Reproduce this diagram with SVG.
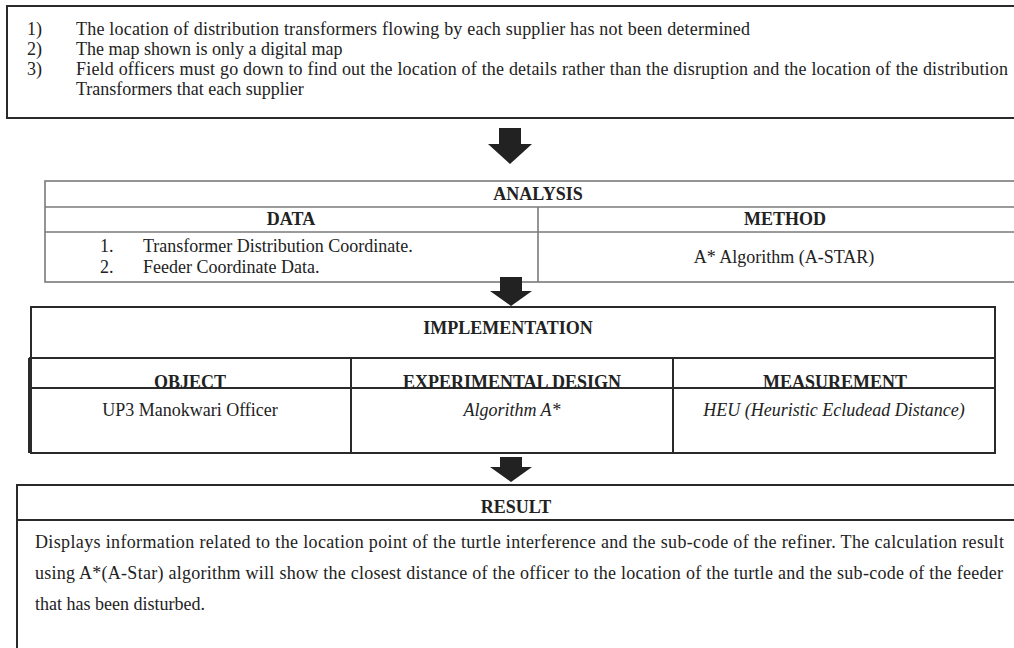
<svg xmlns="http://www.w3.org/2000/svg" width="1014" height="648" viewBox="0 0 1014 648">
<defs>
<style>
.t{font-family:"Liberation Serif","Times New Roman",serif;font-size:18px;fill:#222}
.b{font-weight:bold}
.i{font-style:italic}
.c{text-anchor:middle}
.dark{fill:none;stroke:#2a2a2a;stroke-width:2}
.grey{fill:none;stroke:#7a7a7a;stroke-width:1.6}
.arrow{fill:#222}
</style>
</defs>
<rect width="1014" height="648" fill="#fff"/>

<g id="problem">
<rect class="dark" x="7" y="6" width="1030" height="112"/>
<text class="t" x="27" y="35">1)</text>
<text class="t" x="76" y="35" textLength="674" lengthAdjust="spacing">The location of distribution transformers flowing by each supplier has not been determined</text>
<text class="t" x="27" y="55">2)</text>
<text class="t" x="76" y="55">The map shown is only a digital map</text>
<text class="t" x="27" y="75">3)</text>
<text class="t" x="76" y="75" textLength="932" lengthAdjust="spacing">Field officers must go down to find out the location of the details rather than the disruption and the location of the distribution</text>
<text class="t" x="76" y="95">Transformers that each supplier</text>
</g>

<g id="analysis">
<rect class="grey" x="45" y="181" width="1000" height="101"/>
<line class="grey" x1="45" y1="207" x2="1045" y2="207"/>
<line class="grey" x1="45" y1="232" x2="1045" y2="232"/>
<line class="grey" x1="538" y1="207" x2="538" y2="282"/>
<text class="t b c" x="538" y="200">ANALYSIS</text>
<text class="t b c" x="291" y="225">DATA</text>
<text class="t b c" x="785" y="225">METHOD</text>
<text class="t" x="100" y="252">1.</text>
<text class="t" x="143" y="252">Transformer Distribution Coordinate.</text>
<text class="t" x="100" y="273">2.</text>
<text class="t" x="143" y="273">Feeder Coordinate Data.</text>
<text class="t c" x="784" y="263">A* Algorithm (A-STAR)</text>
</g>

<g id="implementation">
<rect class="dark" x="31" y="307" width="964" height="146"/>
<line class="dark" x1="29" y1="358" x2="995" y2="358"/>
<line class="dark" x1="29" y1="388" x2="995" y2="388"/>
<line class="dark" x1="29" y1="358" x2="29" y2="453"/>
<line class="dark" x1="351" y1="358" x2="351" y2="453"/>
<line class="dark" x1="673" y1="358" x2="673" y2="453"/>
<text class="t b c" x="508" y="334">IMPLEMENTATION</text>
<text class="t b c" x="190" y="388">OBJECT</text>
<text class="t b c" x="512" y="388">EXPERIMENTAL DESIGN</text>
<text class="t b c" x="835" y="388">MEASUREMENT</text>
<text class="t c" x="190" y="416">UP3 Manokwari Officer</text>
<text class="t i c" x="512" y="416">Algorithm A*</text>
<text class="t i c" x="834" y="416">HEU (Heuristic Ecludead Distance)</text>
</g>

<g id="result">
<path class="dark" d="M1040 485 H17 V660"/>
<line class="dark" x1="17" y1="520" x2="1040" y2="520"/>
<text class="t b c" x="516" y="513">RESULT</text>
<text class="t" x="35" y="548" textLength="969" lengthAdjust="spacing">Displays information related to the location point of the turtle interference and the sub-code of the refiner. The calculation result</text>
<text class="t" x="35" y="579" textLength="968" lengthAdjust="spacing">using A*(A-Star) algorithm will show the closest distance of the officer to the location of the turtle and the sub-code of the feeder</text>
<text class="t" x="35" y="610">that has been disturbed.</text>
</g>

<g id="connectors">
<polygon class="arrow" points="499,128 521,128 521,144 532,144 510,164 488,144 499,144"/>
<polygon class="arrow" points="500,277 522,277 522,291 532,291 511,306 490,291 500,291"/>
<polygon class="arrow" points="500,457 522,457 522,467 532,467 511,482 490,467 500,467"/>
</g>
</svg>
